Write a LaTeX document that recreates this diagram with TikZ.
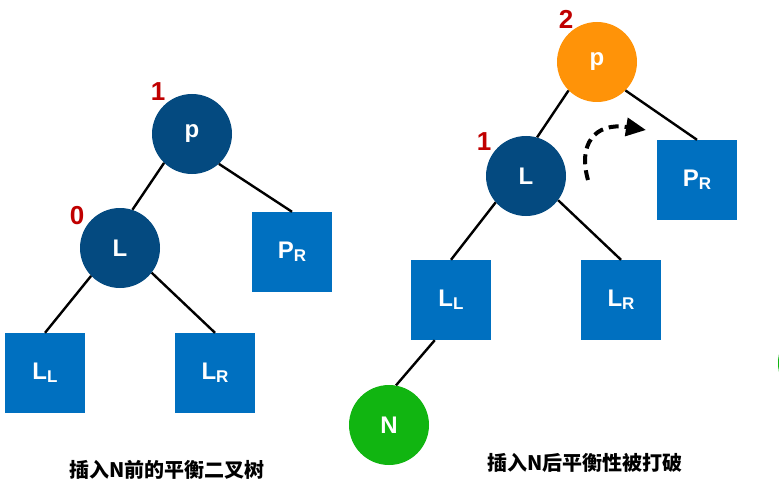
\documentclass[tikz,border=0pt]{standalone}
\usepackage{fontspec}
\setmainfont{Liberation Sans}
\newfontfamily\cjk{Noto Sans CJK SC}
\usetikzlibrary{arrows.meta}

\definecolor{treeblue}{RGB}{4,74,128}
\definecolor{leafblue}{RGB}{0,112,192}
\definecolor{rootorange}{RGB}{255,147,8}
\definecolor{newgreen}{RGB}{17,181,17}
\definecolor{balred}{RGB}{192,0,0}

\newcommand{\lblsub}[2]{#1\raisebox{-0.12em}{\fontsize{17}{17}\selectfont #2}}

\begin{document}
\begin{tikzpicture}[x=1pt, y=-1pt,
    avl/.style={circle, minimum size=80pt, inner sep=0pt, text=white,
      font=\fontsize{24}{24}\selectfont\bfseries},
    inner/.style={avl, fill=treeblue},
    leaf/.style={avl, rectangle, fill=leafblue},
    bal/.style={text=balred, font=\fontsize{26}{26}\selectfont\bfseries},
    edge/.style={line width=2.4pt},
    caption/.style={font=\cjk\fontsize{20}{20}\selectfont\bfseries}]
  \useasboundingbox[fill=white] (0,0) rectangle (779,484);

  % Balanced tree before inserting N
  \node[inner] (p) at (192,134) {p};
  \node[inner] (L) at (120,248) {L};
  \node[leaf] (PR) at (292,252) {\lblsub{P}{R}};
  \node[leaf] (LL) at (45,373) {\lblsub{L}{L}};
  \node[leaf] (LR) at (215,373) {\lblsub{L}{R}};
  \node[bal] (bp) at (158,92) {1};
  \node[bal] (bL) at (77,216) {0};

  \draw[edge] (p.-134) -- (L.72);
  \draw[edge] (p.-48) -- (PR.north);
  \draw[edge] (L.-136) -- (LL.north);
  \draw[edge] (L.-38) -- (LR.north);

  \node[caption] (capL) at (167,470) {插入N前的平衡二叉树};

  % Tree after inserting N
  \node[avl, fill=rootorange] (p2) at (597,62) {p};
  \node[inner] (L2) at (526,176) {L};
  \node[leaf] (PR2) at (697,180) {\lblsub{P}{R}};
  \node[leaf] (LL2) at (451,300) {\lblsub{L}{L}};
  \node[leaf] (LR2) at (621,300) {\lblsub{L}{R}};
  \node[avl, fill=newgreen] (N) at (389,425) {N};
  \node[bal] (bp2) at (566,19) {2};
  \node[bal] (bL2) at (484,142) {1};

  \draw[edge] (p2.-135) -- (L2.74);
  \draw[edge] (p2.-45) -- (PR2.north);
  \draw[edge] (L2.-139) -- (LL2.north);
  \draw[edge] (L2.-37) -- (LR2.north);
  \draw[edge] (LL2.-112) -- (N.80);

  % Rotation hint
  \coordinate (rotS) at (588,180);
  \coordinate (rotE) at (646,130);
  \draw[line width=4pt, dash pattern=on 10pt off 6pt,
    -{Triangle[length=20pt, width=18pt]}]
    (rotS) .. controls (578,145) and (594,122) .. (rotE);

  \node[caption] (capR) at (585,463) {插入N后平衡性被打破};

  % Next figure, cut off at the edge
  \fill[newgreen] (818,363) circle (40);
\end{tikzpicture}
\end{document}
